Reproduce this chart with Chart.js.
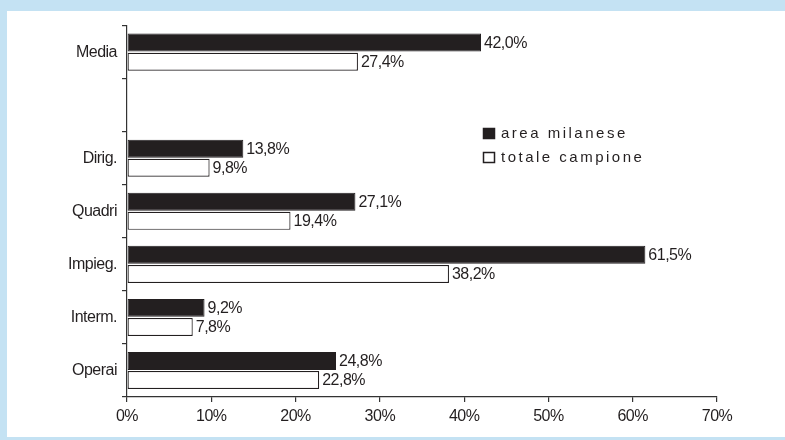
<!DOCTYPE html>
<html>
<head>
<meta charset="utf-8">
<script src="https://cdn.jsdelivr.net/npm/chart.js@4.4.1/dist/chart.umd.min.js"></script>
<style>
    html, body { margin: 0; padding: 0; background: #c4e2f3; }
    #wrap { position: absolute; left: 7px; top: 11px; width: 778px; height: 426px; background: #fff; }
</style>
</head>
<body>
<div id="wrap"><canvas id="chart-canvas" width="778" height="426"></canvas></div>
<script>
const categories = ['Media', '', 'Dirig.', 'Quadri', 'Impieg.', 'Interm.', 'Operai'];
const areaMilanese = [42.0, null, 13.8, 27.1, 61.5, 9.2, 24.8];
const totaleCampione = [27.4, null, 9.8, 19.4, 38.2, 7.8, 22.8];
const xTicks = [0, 10, 20, 30, 40, 50, 60, 70];

const ink = '#231f20';
const font = "'Liberation Sans', Arial, sans-serif";

function pct(v) {
    return v.toFixed(1).replace('.', ',') + '%';
}

// slightly tighter lettering for all axis text
const tightText = {
    id: 'tightText',
    beforeLayout(chart) { chart.ctx.letterSpacing = '-0.5px'; },
    beforeDraw(chart) { chart.ctx.letterSpacing = '-0.5px'; }
};

// value labels to the right of every bar
const valueLabels = {
    id: 'valueLabels',
    afterDatasetsDraw(chart) {
        const ctx = chart.ctx;
        ctx.save();
        ctx.fillStyle = ink;
        ctx.font = '16px ' + font;
        ctx.letterSpacing = '-0.5px';
        ctx.textBaseline = 'middle';
        ctx.textAlign = 'left';
        chart.data.datasets.forEach((ds, i) => {
            chart.getDatasetMeta(i).data.forEach((bar, j) => {
                const v = ds.data[j];
                if (v === null) return;
                ctx.fillText(pct(v), bar.x + 3, bar.y + 1);
            });
        });
        ctx.restore();
    }
};

// boxed legend with spaced-out lettering
const boxLegend = {
    id: 'boxLegend',
    afterDraw(chart) {
        const ctx = chart.ctx;
        ctx.save();
        ctx.font = '15px ' + font;
        ctx.letterSpacing = '2.5px';
        ctx.textBaseline = 'middle';
        chart.data.datasets.forEach((ds, i) => {
            const x = 476, y = 117 + i * 24;
            ctx.fillStyle = ds.backgroundColor;
            ctx.fillRect(x, y, 12, 11);
            ctx.strokeStyle = ink;
            ctx.lineWidth = 1.5;
            ctx.strokeRect(x + 0.5, y + 0.5, 11, 10);
            ctx.fillStyle = ink;
            ctx.fillText(ds.label, x + 18, y + 6);
        });
        ctx.restore();
    }
};

const config = {
    type: 'bar',
    data: {
        labels: categories,
        datasets: [{
            label: 'area milanese',
            data: areaMilanese,
            backgroundColor: ink,
            borderColor: ink,
            borderWidth: 1,
            borderSkipped: false,
            categoryPercentage: 0.72,
            barPercentage: 0.94
        }, {
            label: 'totale campione',
            data: totaleCampione,
            backgroundColor: '#ffffff',
            borderColor: ink,
            borderWidth: 1.2,
            borderSkipped: false,
            categoryPercentage: 0.72,
            barPercentage: 0.94
        }]
    },
    options: {
        indexAxis: 'y',
        responsive: false,
        animation: false,
        layout: { padding: { top: 14, right: 68, left: 0, bottom: 0 } },
        plugins: {
            legend: { display: false },
            tooltip: { enabled: false }
        },
        scales: {
            x: {
                min: 0,
                max: 70,
                afterBuildTicks(scale) {
                    scale.ticks = xTicks.map(v => ({ value: v }));
                },
                afterFit(scale) { scale.height = 40; },
                border: { color: '#333', width: 1.2 },
                grid: { drawOnChartArea: false, tickLength: 5, color: '#333', lineWidth: 1.2 },
                ticks: {
                    color: ink,
                    font: { family: font, size: 16 },
                    padding: 5,
                    maxRotation: 0,
                    callback: v => v + '%'
                }
            },
            y: {
                afterFit(scale) { scale.width = 120; },
                border: { color: '#333', width: 1.2 },
                grid: { drawOnChartArea: false, tickLength: 5, color: '#333', lineWidth: 1.2, offset: true },
                ticks: {
                    color: ink,
                    font: { family: font, size: 16 },
                    padding: 5
                }
            }
        }
    },
    plugins: [tightText, valueLabels, boxLegend]
};

let myChart = new Chart(document.getElementById('chart-canvas'), config);
</script>
</body>
</html>
